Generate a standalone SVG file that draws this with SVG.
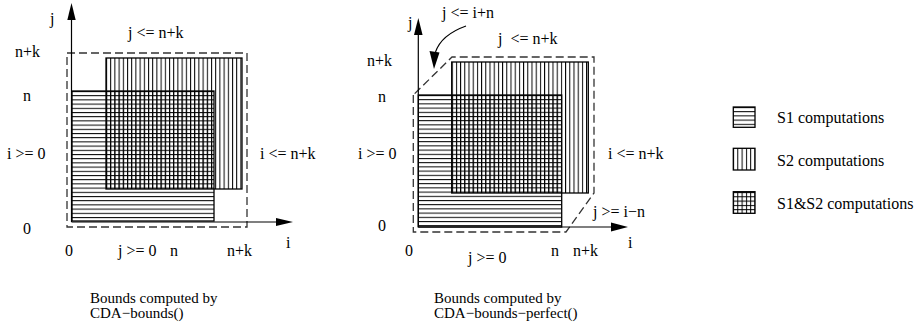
<svg xmlns="http://www.w3.org/2000/svg" width="918" height="322" viewBox="0 0 918 322">
<style>
text{font-family:"Liberation Serif","Times New Roman",serif;font-size:16px;fill:#000;white-space:pre}
.cap{font-size:15px}
.ax{stroke:#000;stroke-width:1.2;fill:none}
.dash{stroke:#333;stroke-width:1.3;fill:none;stroke-dasharray:8 4}
.bd{stroke:#000;stroke-width:1.3}
.ah{fill:#000;stroke:none}
</style>
<defs>
<pattern id="hL" x="72" y="91" width="20" height="4.2" patternUnits="userSpaceOnUse"><rect width="20" height="1" fill="#000"/></pattern>
<pattern id="vL" x="106" y="58" width="4.2" height="20" patternUnits="userSpaceOnUse"><rect width="1" height="20" fill="#000"/></pattern>
<pattern id="hR" x="418.3" y="95" width="20" height="4.2" patternUnits="userSpaceOnUse"><rect width="20" height="1" fill="#000"/></pattern>
<pattern id="vR" x="451.7" y="62" width="4.2" height="20" patternUnits="userSpaceOnUse"><rect width="1" height="20" fill="#000"/></pattern>
<pattern id="hG1" x="733" y="107" width="30" height="4.2" patternUnits="userSpaceOnUse"><rect width="30" height="1" fill="#000"/></pattern>
<pattern id="vG2" x="733" y="148" width="4.3" height="30" patternUnits="userSpaceOnUse"><rect width="1" height="30" fill="#000"/></pattern>
<pattern id="hG3" x="733" y="192" width="30" height="4.3" patternUnits="userSpaceOnUse"><rect width="30" height="1" fill="#000"/></pattern>
<pattern id="vG3" x="733" y="192" width="4.3" height="30" patternUnits="userSpaceOnUse"><rect width="1" height="30" fill="#000"/></pattern>
</defs>

<g id="left-diagram">
  <g id="left-S2"><rect x="106" y="58" width="136" height="131" fill="url(#vL)" class="bd"/></g>
  <g id="left-S1"><rect x="72" y="91" width="142" height="130" fill="url(#hL)" class="bd"/></g>
  <g id="left-S2-top"><rect x="106" y="91" width="108" height="98" fill="url(#vL)" stroke="none"/></g>
  <g id="left-bounds"><rect x="67" y="53" width="180" height="174" class="dash"/></g>
  <g id="left-axes">
    <line x1="71.5" y1="19" x2="71.5" y2="222" class="ax"/>
    <line x1="71.5" y1="222" x2="277" y2="222" class="ax"/>
    <polygon points="71.5,3 67.3,20 75.7,20" class="ah"/>
    <polygon points="293,222 276,218 276,226" class="ah"/>
  </g>
  <g id="left-labels">
    <text x="50" y="24">j</text>
    <text x="128" y="38">j &lt;= n+k</text>
    <text x="15" y="57">n+k</text>
    <text x="23" y="101">n</text>
    <text x="7" y="159">i &gt;= 0</text>
    <text x="260" y="159">i &lt;= n+k</text>
    <text x="23" y="234">0</text>
    <text x="286" y="248">i</text>
    <text x="65" y="256">0</text>
    <text x="118" y="256">j &gt;= 0</text>
    <text x="170" y="256">n</text>
    <text x="227" y="256">n+k</text>
    <text class="cap" x="90" y="303">Bounds computed by</text>
    <text class="cap" x="90" y="318">CDA−bounds()</text>
  </g>
</g>

<g id="right-diagram">
  <g id="right-S2"><rect x="451.7" y="62" width="136.6" height="131" fill="url(#vR)" class="bd"/></g>
  <g id="right-S1"><rect x="418.3" y="95" width="143.4" height="132" fill="url(#hR)" class="bd"/></g>
  <g id="right-S2-top"><rect x="451.7" y="95" width="110" height="98" fill="url(#vR)" stroke="none"/></g>
  <g id="right-bounds"><polygon points="413.3,95 413.3,232 566,232 594,193 594,57 452,57" class="dash"/></g>
  <g id="right-axes">
    <line x1="418.3" y1="34" x2="418.3" y2="227" class="ax"/>
    <line x1="418.3" y1="227" x2="612" y2="227" class="ax"/>
    <polygon points="418.3,18 414,35 422.6,35" class="ah"/>
    <polygon points="628,227 611,222.5 611,231.5" class="ah"/>
  </g>
  <g id="connectors">
    <path d="M466,26 C452,31 440,39 435.5,52" class="ax"/>
    <polygon points="434,69 429.5,51 439.5,52.5" class="ah"/>
  </g>
  <g id="right-labels">
    <text x="408" y="28">j</text>
    <text x="442" y="18">j &lt;= i+n</text>
    <text x="498" y="44">j  &lt;= n+k</text>
    <text x="367" y="66">n+k</text>
    <text x="378" y="102">n</text>
    <text x="358" y="159">i &gt;= 0</text>
    <text x="608" y="159">i &lt;= n+k</text>
    <text x="593" y="217">j &gt;= i−n</text>
    <text x="378" y="231">0</text>
    <text x="628" y="248">i</text>
    <text x="405" y="256">0</text>
    <text x="468" y="263">j &gt;= 0</text>
    <text x="551" y="256">n</text>
    <text x="573" y="256">n+k</text>
    <text class="cap" x="434" y="303">Bounds computed by</text>
    <text class="cap" x="434" y="318">CDA−bounds−perfect()</text>
  </g>
</g>

<g id="legend">
  <g id="legend-S1">
    <rect x="733.3" y="107" width="21.7" height="20.3" fill="url(#hG1)" class="bd"/>
    <text x="777" y="123">S1 computations</text>
  </g>
  <g id="legend-S2">
    <rect x="733.3" y="148.3" width="21.7" height="21.7" fill="url(#vG2)" class="bd"/>
    <text x="777" y="166">S2 computations</text>
  </g>
  <g id="legend-S1S2">
    <rect x="733.3" y="191.7" width="21.7" height="21.6" fill="url(#hG3)" class="bd"/>
    <rect x="733.3" y="191.7" width="21.7" height="21.6" fill="url(#vG3)" stroke="none"/>
    <text x="777" y="209">S1&amp;S2 computations</text>
  </g>
</g>
</svg>
